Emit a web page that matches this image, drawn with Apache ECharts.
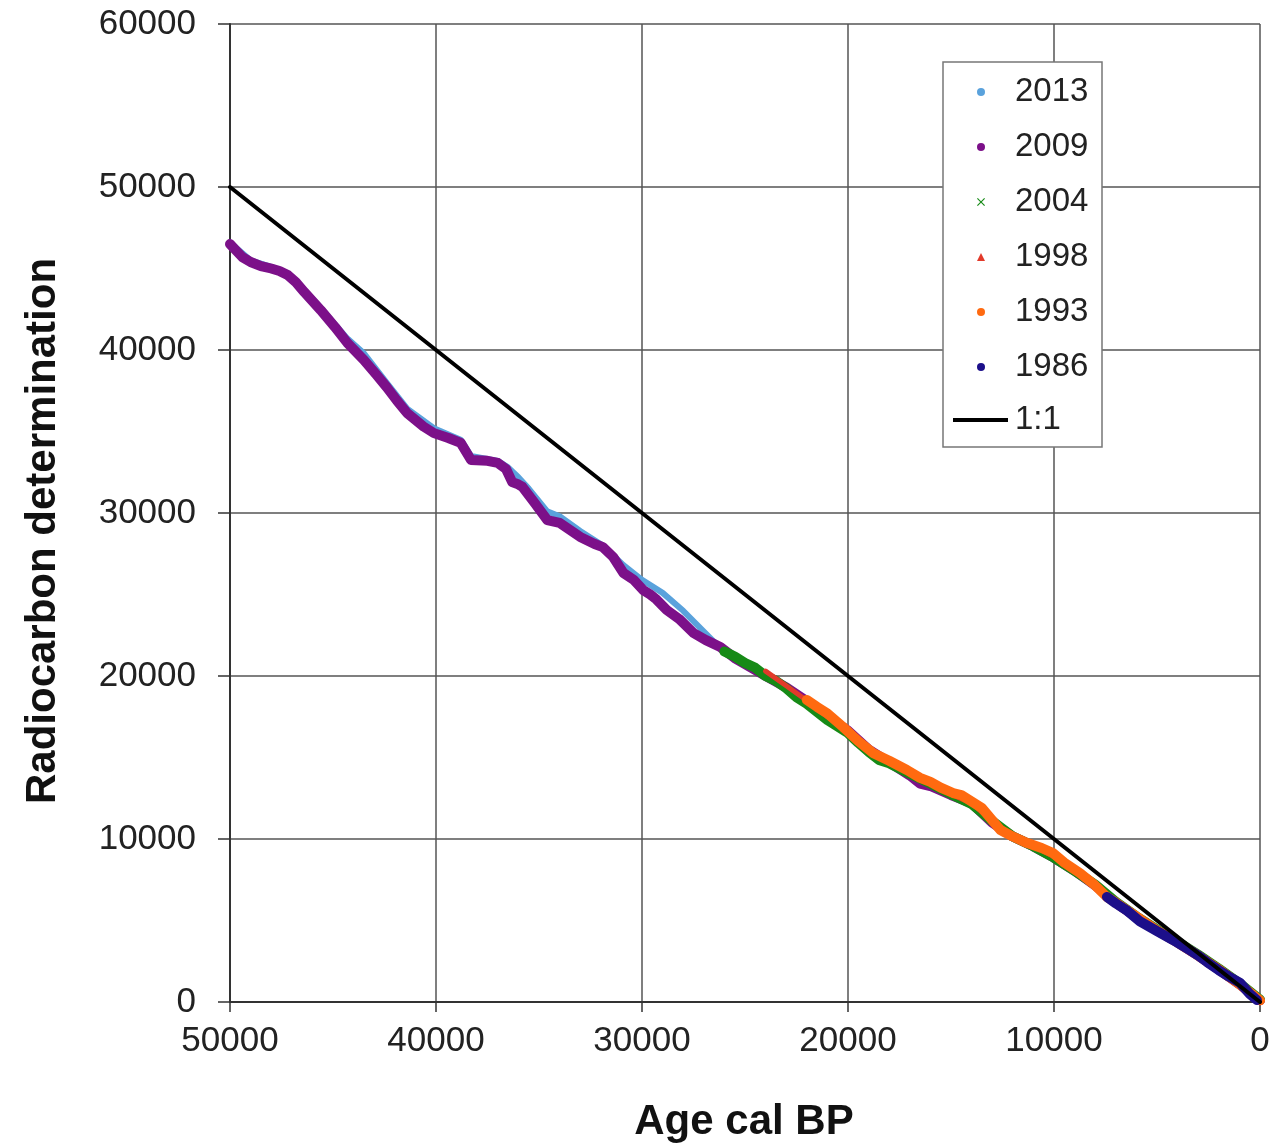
<!DOCTYPE html>
<html>
<head>
<meta charset="utf-8">
<script src="https://cdn.jsdelivr.net/npm/echarts@6/dist/echarts.min.js"></script>
<style>
html,body{margin:0;padding:0;background:#fff;}
#chart{width:1286px;height:1143px;}
</style>
</head>
<body>
<div id="chart"></div>
<script>
// ---- data: [cal BP age, radiocarbon age] ----
const xTicks = [0, 10000, 20000, 30000, 40000, 50000];
const yTicks = [0, 10000, 20000, 30000, 40000, 50000, 60000];
const legendNames = ['2013', '2009', '2004', '1998', '1993', '1986'];

const s2013 = [[50000,46600],[49000,45500],[48000,45100],[47200,44700],[46400,43700],[45600,42600],[44300,40700],[43500,39800],[42400,38000],[41400,36400],[40100,35200],[38800,34500],[38300,33500],[37000,33200],[36500,32800],[36000,32200],[35500,31500],[34600,30100],[34000,29800],[33000,28900],[31900,28000],[30900,26800],[30000,25900],[29000,25100],[28000,24000],[27300,23100],[26500,22100],[26000,21600],[25000,20900],[24000,20100],[23000,19400],[22000,18500],[21000,17500],[20000,16700],[19000,15600],[18000,14800],[17000,14100],[16000,13300],[15000,12700],[14000,12200],[13000,11100],[12600,10600],[12000,10200],[11000,9600],[10000,8900],[9000,8100],[8000,7200],[7000,6100],[6000,5250],[5000,4400],[4000,3650],[3000,2850],[2000,2000],[1000,1100],[0,100]];

const s2009 = [[50000,46500],[49700,46100],[49400,45700],[49000,45400],[48500,45150],[48000,45000],[47600,44850],[47200,44600],[46800,44150],[46400,43560],[45600,42450],[44900,41400],[44300,40430],[43500,39390],[42900,38500],[42400,37730],[41900,36900],[41400,36130],[40600,35300],[40100,34900],[39400,34600],[38800,34300],[38300,33250],[37500,33200],[37000,33070],[36600,32700],[36300,31900],[36000,31750],[35800,31600],[35200,30600],[34600,29570],[34000,29400],[33000,28530],[32300,28100],[31900,27910],[31400,27300],[30900,26320],[30400,25900],[29950,25280],[29600,25000],[29300,24700],[28800,24050],[28200,23500],[27500,22640],[26900,22200],[26200,21780],[25500,21100],[24000,20000],[23000,19300],[22000,18450],[21000,17500],[20000,16650],[19000,15500],[18000,14700],[17000,13900],[16500,13400],[16000,13250],[15000,12700],[14000,12200],[13000,11000],[12000,10150],[11000,9550],[10000,8850],[9000,8050],[8000,7150],[7000,6100],[6000,5200],[5000,4400],[4000,3650],[3000,2850],[2000,2000],[1000,1100],[0,100]];

const s2004 = [[26000,21500],[25500,21200],[25000,20800],[24500,20500],[24000,20000],[23500,19700],[23000,19250],[22500,18700],[22000,18300],[21000,17300],[20000,16500],[19500,15900],[19000,15350],[18500,14850],[18000,14650],[17000,14000],[16000,13400],[15000,12750],[14000,12150],[13000,11100],[12000,10150],[11000,9550],[10000,8850],[9000,8050],[8000,7200],[7000,6150],[6000,5250],[5000,4450],[4000,3700],[3000,2900],[2000,2050],[1000,1150],[0,150]];

const s1998 = [[24000,20300],[23000,19400],[22000,18500],[21000,17500],[20000,16700],[19000,15600],[18000,14800],[17000,14100],[16000,13400],[15000,12750],[14000,12200],[13000,11100],[12000,10200],[11000,9600],[10000,8900],[9000,8100],[8000,7200],[7000,6100],[6000,5250],[5000,4400],[4000,3650],[3000,2850],[2000,2000],[1000,1100],[0,150]];

const s1993 = [[22000,18530],[21500,18100],[21000,17700],[20240,16870],[19500,16000],[18790,15280],[18000,14800],[17140,14230],[16500,13750],[16000,13500],[15500,13150],[14900,12820],[14500,12700],[14000,12300],[13500,11900],[13000,11150],[12600,10550],[12000,10150],[11300,9750],[10600,9450],[10050,9140],[9500,8550],[8740,7910],[8000,7150],[7430,6440],[7000,6100],[6000,5250],[5000,4400],[4000,3650],[3000,2850],[2000,2000],[1000,1100],[0,100]];

const s1986 = [[7430,6440],[7000,6050],[6500,5650],[5830,4950],[5000,4350],[4220,3800],[3500,3250],[3000,2850],[2570,2450],[2000,1950],[1500,1550],[970,1170],[500,500],[150,120]];

const oneToOne = [[50000,50000],[0,0]];

// ---- chart ----
const FONT = '"Liberation Sans", Arial, sans-serif';
const chart = echarts.init(document.getElementById('chart'), null, {renderer: 'canvas'});

function lineSeries(name, data, color, width) {
  return {
    name: name, type: 'line', data: data, symbol: 'none', smooth: false,
    itemStyle: {color: color},
    lineStyle: {color: color, width: width, cap: 'round', join: 'round'},
    animation: false, silent: true
  };
}

const xIcon = 'path://M1,0L5,4L9,0L10,1L6,5L10,9L9,10L5,6L1,10L0,9L4,5L0,1Z';
const plain = function (v) { return String(v); };

chart.setOption({
  backgroundColor: '#ffffff',
  animation: false,
  grid: {left: 230, right: 26, top: 24, bottom: 141, containLabel: false},
  xAxis: {
    type: 'value', min: xTicks[0], max: xTicks[xTicks.length - 1], interval: 10000, inverse: true,
    axisLine: {show: true, onZero: false, lineStyle: {color: '#333', width: 2}},
    axisTick: {show: true, length: 10, inside: false, lineStyle: {color: '#333', width: 1.5}},
    axisLabel: {fontFamily: FONT, fontSize: 35, color: '#222', margin: 22, formatter: plain},
    splitLine: {show: true, lineStyle: {color: '#555', width: 1.5}}
  },
  yAxis: {
    type: 'value', min: yTicks[0], max: yTicks[yTicks.length - 1], interval: 10000,
    axisLine: {show: true, onZero: false, lineStyle: {color: '#333', width: 2}},
    axisTick: {show: true, length: 12, inside: false, lineStyle: {color: '#333', width: 1.5}},
    axisLabel: {fontFamily: FONT, fontSize: 35, color: '#222', margin: 34, formatter: plain},
    splitLine: {show: true, lineStyle: {color: '#555', width: 1.5}}
  },
  legend: [
    {
      orient: 'vertical', left: 977, top: 72, padding: 0, itemGap: 15,
      itemWidth: 8, itemHeight: 8, z: 5,
      textStyle: {fontFamily: FONT, fontSize: 33, color: '#222', lineHeight: 40, padding: [0, 0, 0, 25]},
      data: [
        {name: '2013', icon: 'circle'},
        {name: '2009', icon: 'circle'},
        {name: '2004', icon: xIcon},
        {name: '1998', icon: 'triangle'},
        {name: '1993', icon: 'circle'},
        {name: '1986', icon: 'circle'}
      ],
      selectedMode: false
    },
    {
      orient: 'vertical', left: 953, top: 400, padding: 0,
      itemWidth: 55, itemHeight: 4, z: 5,
      textStyle: {fontFamily: FONT, fontSize: 33, color: '#222', lineHeight: 40, padding: [0, 0, 0, 2]},
      data: [{name: '1:1', icon: 'rect'}],
      selectedMode: false
    }
  ],
  graphic: [
    {
      type: 'rect', z: 3, silent: true,
      shape: {x: 943, y: 62, width: 159, height: 385},
      style: {fill: '#ffffff', stroke: '#777', lineWidth: 1.5}
    },
    {
      type: 'text', z: 3, silent: true, x: 43, y: 531, rotation: Math.PI / 2,
      style: {text: 'Radiocarbon determination', font: 'bold 42px ' + FONT, fill: '#111', align: 'center', verticalAlign: 'middle'}
    },
    {
      type: 'text', z: 3, silent: true, x: 744, y: 1122,
      style: {text: 'Age cal BP', font: 'bold 42px ' + FONT, fill: '#111', align: 'center', verticalAlign: 'middle'}
    }
  ],
  series: [
    lineSeries(legendNames[0], s2013, '#5aa2dc', 6),
    lineSeries(legendNames[1], s2009, '#7c1089', 10),
    lineSeries(legendNames[2], s2004, '#168a16', 10),
    lineSeries(legendNames[3], s1998, '#e23a2a', 5),
    lineSeries(legendNames[4], s1993, '#ff6a10', 10),
    lineSeries(legendNames[5], s1986, '#1c0f8a', 10),
    lineSeries('1:1', oneToOne, '#000000', 4)
  ]
});
</script>
</body>
</html>
